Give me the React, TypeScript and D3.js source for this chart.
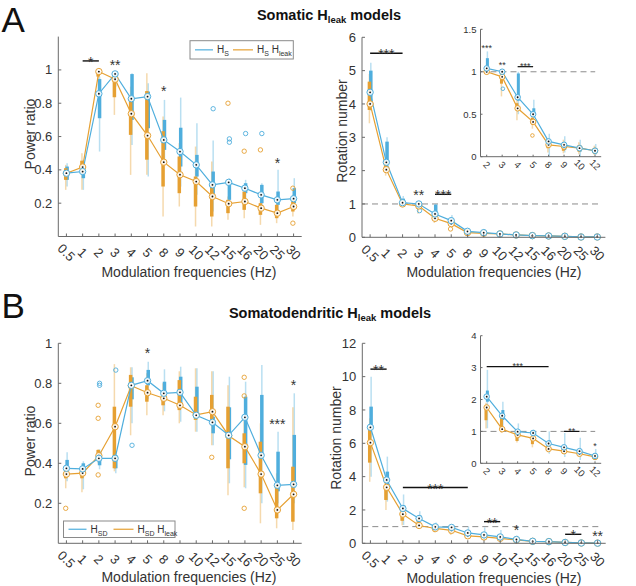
import React from "react";
import * as d3 from "d3";

const categories = ["0.5", "1", "2", "3", "4", "5", "8", "9", "10", "12", "15", "16", "20", "25", "30"];
const insetCategories = ["2", "3", "4", "5", "8", "9", "10", "12"];
const insetStart = 2;

// per category: [lower whisker, Q1, marker (line value), Q3, upper whisker]
const powerSomaticHs = [
  [0.30, 0.34, 0.38, 0.42, 0.44],
  [0.28, 0.35, 0.39, 0.41, 0.46],
  [0.51, 0.71, 0.857, 0.945, 0.96],
  [0.90, 0.955, 0.976, 0.985, 0.99],
  [0.55, 0.70, 0.827, 0.975, 0.98],
  [0.36, 0.65, 0.84, 0.87, 0.92],
  [0.45, 0.52, 0.58, 0.70, 0.82],
  [0.30, 0.42, 0.51, 0.653, 0.834],
  [0.25, 0.36, 0.43, 0.49, 0.68],
  [0.15, 0.24, 0.31, 0.39, 0.576],
  [0.18, 0.22, 0.325, 0.33, 0.35],
  [0.20, 0.26, 0.29, 0.32, 0.34],
  [0.15, 0.20, 0.25, 0.31, 0.32],
  [0.14, 0.19, 0.22, 0.27, 0.40],
  [0.17, 0.20, 0.227, 0.29, 0.35],
];
const powerSomaticHsLeak = [
  [0.28, 0.34, 0.38, 0.41, 0.43],
  [0.28, 0.38, 0.417, 0.455, 0.50],
  [0.93, 0.96, 0.99, 0.99, 0.99],
  [0.73, 0.836, 0.944, 0.955, 0.98],
  [0.37, 0.61, 0.737, 0.84, 0.90],
  [0.37, 0.461, 0.606, 0.873, 0.98],
  [0.12, 0.30, 0.446, 0.632, 0.72],
  [0.18, 0.26, 0.371, 0.48, 0.56],
  [0.06, 0.18, 0.33, 0.36, 0.54],
  [0.06, 0.12, 0.24, 0.31, 0.45],
  [0.10, 0.14, 0.197, 0.22, 0.24],
  [0.11, 0.16, 0.21, 0.27, 0.30],
  [0.07, 0.13, 0.17, 0.20, 0.25],
  [0.08, 0.11, 0.14, 0.19, 0.22],
  [0.12, 0.15, 0.18, 0.22, 0.25],
];
// outliers: [category index, value]
const powerSomaticHsOut = [[9, 0.767], [10, 0.586], [10, 0.566], [11, 0.618], [12, 0.618]];
const powerSomaticHsLeakOut = [[10, 0.80], [11, 0.512], [12, 0.52], [14, 0.29], [14, 0.08]];
// significance: [stars, from index, to index, value, has bar]
const powerSomaticSig = [["*", 1, 2, 1.054, 1], ["**", 3, 3, 1.05, 0], ["*", 6, 6, 0.89, 0], ["*", 13, 13, 0.46, 0]];

const rotSomaticHs = [
  [3.8, 4.0, 4.35, 5.0, 5.24],
  [2.0, 2.2, 2.25, 2.87, 3.0],
  [0.98, 1.02, 1.04, 1.16, 1.24],
  [0.95, 0.98, 1.0, 1.0, 1.01],
  [0.5, 0.66, 0.70, 0.98, 1.0],
  [0.4, 0.49, 0.50, 0.57, 0.67],
  [0.0, 0.12, 0.18, 0.2, 0.27],
  [0.05, 0.08, 0.14, 0.16, 0.24],
  [0.0, 0.06, 0.10, 0.13, 0.2],
  [0.02, 0.04, 0.07, 0.1, 0.15],
  [0.03, 0.04, 0.05, 0.06, 0.07],
  [0.03, 0.035, 0.04, 0.05, 0.06],
  [0.02, 0.025, 0.03, 0.04, 0.05],
  [0.005, 0.008, 0.01, 0.015, 0.02],
  [0.005, 0.008, 0.01, 0.015, 0.02],
];
const rotSomaticHsLeak = [
  [3.42, 3.82, 4.0, 4.67, 4.9],
  [1.85, 2.0, 2.03, 2.27, 2.4],
  [0.98, 0.99, 1.0, 1.0, 1.0],
  [0.71, 0.86, 0.94, 0.98, 1.0],
  [0.43, 0.55, 0.57, 0.63, 0.7],
  [0.33, 0.38, 0.41, 0.46, 0.5],
  [0.05, 0.1, 0.14, 0.18, 0.22],
  [0.04, 0.07, 0.12, 0.14, 0.2],
  [0.03, 0.06, 0.10, 0.13, 0.17],
  [0.02, 0.04, 0.07, 0.1, 0.13],
  [0.03, 0.04, 0.05, 0.06, 0.07],
  [0.03, 0.035, 0.04, 0.05, 0.06],
  [0.02, 0.025, 0.03, 0.04, 0.05],
  [0.005, 0.008, 0.01, 0.015, 0.02],
  [0.005, 0.008, 0.01, 0.015, 0.02],
];
const rotSomaticHsOut = [[3, 0.80]];
const rotSomaticHsLeakOut = [[5, 0.25]];
const rotSomaticSig = [["***", 0, 2, 5.52, 1], ["**", 3, 3, 1.37, 0], ["***", 4, 5, 1.29, 1]];
const rotSomaticInsetSig = [["***", 0, 0, 1.31, 0], ["**", 1, 1, 1.1, 0], ["***", 2, 3, 1.06, 1]];

const powerDendHsd = [
  [0.31, 0.366, 0.375, 0.417, 0.455],
  [0.27, 0.358, 0.372, 0.40, 0.41],
  [0.37, 0.39, 0.425, 0.458, 0.47],
  [0.35, 0.375, 0.425, 0.44, 0.45],
  [0.60, 0.72, 0.79, 0.83, 0.88],
  [0.72, 0.79, 0.813, 0.867, 0.908],
  [0.66, 0.73, 0.75, 0.808, 0.87],
  [0.608, 0.70, 0.755, 0.833, 0.883],
  [0.558, 0.633, 0.64, 0.783, 0.875],
  [0.49, 0.55, 0.605, 0.633, 0.86],
  [0.30, 0.42, 0.54, 0.68, 0.833],
  [0.275, 0.392, 0.63, 0.733, 0.808],
  [0.2, 0.433, 0.44, 0.742, 0.892],
  [0.2, 0.26, 0.29, 0.458, 0.558],
  [0.2, 0.28, 0.295, 0.542, 0.75],
];
const powerDendHsdLeak = [
  [0.275, 0.325, 0.346, 0.366, 0.38],
  [0.255, 0.325, 0.351, 0.366, 0.38],
  [0.40, 0.433, 0.438, 0.467, 0.47],
  [0.36, 0.375, 0.583, 0.683, 0.896],
  [0.54, 0.683, 0.788, 0.842, 0.88],
  [0.64, 0.708, 0.753, 0.79, 0.85],
  [0.64, 0.69, 0.725, 0.75, 0.80],
  [0.6, 0.666, 0.69, 0.816, 0.86],
  [0.558, 0.617, 0.642, 0.733, 0.875],
  [0.49, 0.608, 0.658, 0.742, 0.86],
  [0.24, 0.375, 0.538, 0.683, 0.79],
  [0.28, 0.40, 0.483, 0.55, 0.62],
  [0.1, 0.25, 0.346, 0.508, 0.6],
  [0.075, 0.125, 0.167, 0.292, 0.35],
  [0.067, 0.108, 0.245, 0.383, 0.68],
];
const powerDendHsdOut = [[2, 0.80], [2, 0.79], [3, 0.866], [4, 0.49]];
const powerDendHsdLeakOut = [[0, 0.175], [2, 0.69], [2, 0.625], [2, 0.342], [9, 0.43], [11, 0.83], [11, 0.737], [11, 0.175]];
const powerDendSig = [["*", 5, 5, 0.967, 0], ["***", 13, 13, 0.61, 0], ["*", 14, 14, 0.808, 0]];

const rotDendHsd = [
  [4.0, 6.9, 6.96, 8.2, 10.0],
  [2.5, 3.5, 3.8, 4.3, 5.2],
  [1.1, 1.93, 2.09, 2.28, 2.93],
  [1.1, 1.36, 1.49, 1.67, 1.93],
  [0.7, 0.9, 0.99, 1.0, 1.25],
  [0.7, 0.88, 0.95, 1.0, 1.05],
  [0.3, 0.55, 0.62, 0.72, 1.0],
  [0.2, 0.4, 0.5, 0.55, 0.95],
  [0.1, 0.3, 0.38, 0.45, 0.8],
  [0.1, 0.18, 0.23, 0.28, 0.45],
  [0.05, 0.1, 0.12, 0.15, 0.2],
  [0.05, 0.08, 0.1, 0.12, 0.15],
  [0.02, 0.04, 0.05, 0.06, 0.08],
  [0.01, 0.015, 0.02, 0.03, 0.04],
  [0.005, 0.008, 0.01, 0.015, 0.02],
];
const rotDendHsdLeak = [
  [3.69, 4.84, 6.04, 6.96, 7.5],
  [2.0, 2.6, 3.36, 3.4, 3.8],
  [1.09, 1.35, 1.75, 1.8, 1.9],
  [0.95, 1.05, 1.07, 1.46, 1.5],
  [0.65, 0.7, 0.89, 0.92, 1.0],
  [0.5, 0.6, 0.78, 0.85, 0.9],
  [0.35, 0.4, 0.45, 0.55, 0.6],
  [0.3, 0.33, 0.38, 0.42, 0.45],
  [0.2, 0.25, 0.3, 0.35, 0.4],
  [0.15, 0.18, 0.2, 0.22, 0.26],
  [0.05, 0.1, 0.12, 0.15, 0.2],
  [0.05, 0.08, 0.1, 0.12, 0.15],
  [0.02, 0.04, 0.05, 0.06, 0.08],
  [0.01, 0.015, 0.02, 0.03, 0.04],
  [0.005, 0.008, 0.01, 0.015, 0.02],
];
const rotDendHsdOut: number[][] = [];
const rotDendHsdLeakOut: number[][] = [];
const rotDendSig = [["**", 0, 1, 10.45, 1], ["***", 2, 6, 3.35, 1], ["**", 7, 8, 1.3, 1], ["*", 9, 9, 1.0, 0], ["*", 12, 13, 0.54, 1], ["**", 14, 14, 0.63, 0]];
const rotDendInsetSig = [["***", 0, 4, 3.03, 1], ["**", 5, 6, 1.0, 1], ["*", 7, 7, 0.6, 0]];

const powerTicks = [0.2, 0.4, 0.6, 0.8, 1];
const rotSomaticTicks = [0, 1, 2, 3, 4, 5, 6];
const rotDendTicks = [0, 2, 4, 6, 8, 10, 12];
const insetSomaticTicks = [0, 0.5, 1, 1.5];
const insetDendTicks = [0, 1, 2, 3, 4];

const BLUE = "#4FAEDD";
const ORANGE = "#E6A032";
const AXIS = "#6a6a6a";
const TEXT = "#333333";
const FONT = "'Liberation Sans', Arial, Helvetica, sans-serif";

type Row = number[];

interface PanelProps {
  cats: string[];
  x0: number; x1: number; pad: number;
  yTop: number; yBottom: number; yMax: number; yTicks: number[];
  blue: Row[]; orange: Row[];
  blueOut: number[][]; orangeOut: number[][];
  sigs: any[];
  dashed?: boolean; small?: boolean;
}

function Panel(p: PanelProps) {
  const x = d3.scalePoint<string>().domain(p.cats).range([p.x0, p.x1]).padding(p.pad);
  const y = d3.scaleLinear().domain([0, p.yMax]).range([p.yBottom, p.yTop]);
  const tickFont = p.small ? 9.5 : 13;
  const starFont = p.small ? 9 : 14;
  const boxW = p.small ? 3 : 3.5;
  const mr = p.small ? 2.8 : 3.2;
  const tl = p.small ? 2 : 3;
  const xl = p.small ? 8 : 16;
  const cx = (i: number) => x(p.cats[i]) as number;
  const line = d3.line<Row>().x((_, i) => cx(i)).y((d) => y(d[2]));
  const series = [
    { key: "b", data: p.blue, out: p.blueOut, color: BLUE, dx: 0.7 },
    { key: "o", data: p.orange, out: p.orangeOut, color: ORANGE, dx: -0.7 },
  ];
  return (
    <g fontFamily={FONT}>
      {p.dashed && (
        <line x1={p.x0} x2={p.x1 - 6} y1={y(1)} y2={y(1)} stroke="#8c8c8c" strokeWidth={1} strokeDasharray="6,4" />
      )}
      {series.map((s) =>
        s.data.map((d, i) => (
          <line key={s.key + "w" + i} x1={cx(i) + s.dx} x2={cx(i) + s.dx} y1={y(d[0])} y2={y(d[4])}
            stroke={s.color} strokeOpacity={0.4} strokeWidth={1.5} />
        ))
      )}
      {series.map((s) =>
        s.data.map((d, i) => (
          <rect key={s.key + "b" + i} x={cx(i) + s.dx - boxW / 2} width={boxW} y={y(d[3])}
            height={Math.max(0.5, y(d[1]) - y(d[3]))} fill={s.color} />
        ))
      )}
      {series.map((s) =>
        s.out.map((o, j) => (
          <circle key={s.key + "o" + j} cx={cx(o[0]) + s.dx} cy={y(o[1])} r={p.small ? 1.8 : 2.2}
            fill="none" stroke={s.color} strokeWidth={0.9} />
        ))
      )}
      {[series[1], series[0]].map((s) => (
        <path key={s.key + "l"} d={line(s.data) || ""} fill="none" stroke={s.color} strokeWidth={1.2} />
      ))}
      {[series[1], series[0]].map((s) =>
        s.data.map((d, i) => (
          <g key={s.key + "m" + i}>
            <circle cx={cx(i)} cy={y(d[2])} r={mr} fill="#fff" fillOpacity={0.85} stroke={s.color} strokeWidth={1} />
            <circle cx={cx(i)} cy={y(d[2])} r={0.9} fill="#111" />
          </g>
        ))
      )}
      <line x1={p.x0} x2={p.x0} y1={p.yTop} y2={p.yBottom} stroke={AXIS} strokeWidth={1} />
      <line x1={p.x0} x2={p.x1} y1={p.yBottom} y2={p.yBottom} stroke={AXIS} strokeWidth={1} />
      {p.yTicks.map((t) => (
        <g key={"yt" + t}>
          <line x1={p.x0} x2={p.x0 + tl} y1={y(t)} y2={y(t)} stroke={AXIS} />
          <text x={p.x0 - (p.small ? 4 : 6)} y={y(t)} dy="0.35em" textAnchor="end" fontSize={tickFont} fill={TEXT}>
            {String(t)}
          </text>
        </g>
      ))}
      {p.cats.map((c, i) => (
        <g key={"xt" + c}>
          <line x1={cx(i)} x2={cx(i)} y1={p.yBottom} y2={p.yBottom - tl} stroke={AXIS} />
          <text transform={`translate(${cx(i)},${p.yBottom + xl}) rotate(45)`} textAnchor="middle" dy="0.35em"
            fontSize={tickFont} fill={TEXT}>
            {c}
          </text>
        </g>
      ))}
      {p.sigs.map((s, k) => {
        const xa = cx(s[1]);
        const xb = cx(s[2]);
        const yy = y(s[3]);
        const center = s[4] ? yy - (p.small ? 2.5 : 2) : yy;
        return (
          <g key={"sig" + k}>
            {s[4] ? <line x1={xa} x2={xb} y1={yy} y2={yy} stroke="#111" strokeWidth={p.small ? 1.2 : 1.4} /> : null}
            <text x={(xa + xb) / 2} y={center + starFont * 0.58} textAnchor="middle" fontSize={starFont} fill={TEXT}>
              {s[0]}
            </text>
          </g>
        );
      })}
    </g>
  );
}

const insetRows = (rows: Row[]) => rows.slice(insetStart, insetStart + insetCategories.length);
const insetOut = (out: number[][]) =>
  out.filter((o) => o[0] >= insetStart && o[0] < insetStart + insetCategories.length).map((o) => [o[0] - insetStart, o[1]]);

function Legend({ x, y, w, h, sub }: { x: number; y: number; w: number; h: number; sub: string }) {
  const my = y + h / 2;
  const bx = x + 5;
  const ox = x + (sub === "S" ? 43 : 50);
  return (
    <g fontFamily={FONT} fill={TEXT}>
      <rect x={x} y={y} width={w} height={h} fill="#fff" stroke="#8a8a8a" strokeWidth={1} />
      <line x1={bx} x2={bx + 18} y1={my} y2={my} stroke={BLUE} strokeWidth={1.2} />
      <text x={bx + 22} y={my + 3.5} fontSize={10}>
        H<tspan fontSize={7} dy={3}>{sub}</tspan>
      </text>
      <line x1={ox} x2={ox + 20} y1={my} y2={my} stroke={ORANGE} strokeWidth={1.2} />
      <text x={ox + 24} y={my + 3.5} fontSize={10}>
        H<tspan fontSize={7} dy={3}>{sub}</tspan>
        <tspan fontSize={10} dy={-3}> H</tspan>
        <tspan fontSize={7} dy={3}>leak</tspan>
      </text>
    </g>
  );
}

function AxisLabels({ xc, xy, yx, yc, ylabel }: { xc: number; xy: number; yx: number; yc: number; ylabel: string }) {
  return (
    <g fontFamily={FONT} fill={TEXT} fontSize={14}>
      <text x={xc} y={xy} dy="0.35em" textAnchor="middle">Modulation frequencies (Hz)</text>
      <text transform={`translate(${yx},${yc}) rotate(-90)`} dy="0.35em" textAnchor="middle">{ylabel}</text>
    </g>
  );
}

export default function App() {
  return (
    <svg width={636} height={586} style={{ position: "absolute", left: 0, top: 0, background: "#fff" }}>
      <rect width={636} height={586} fill="#fff" />
      <text x={1.5} y={31.7} fontFamily={FONT} fontSize={35} fill="#111">A</text>
      <text x={1.5} y={318} fontFamily={FONT} fontSize={35} fill="#111">B</text>
      <text x={329} y={19.5} textAnchor="middle" fontFamily={FONT} fontWeight="bold" fill="#111" fontSize={14.5}>
        Somatic H<tspan fontSize={9.5} dy={3}>leak</tspan>
        <tspan fontSize={14.5} dy={-3}> models</tspan>
      </text>
      <text x={330} y={318} textAnchor="middle" fontFamily={FONT} fontWeight="bold" fill="#111" fontSize={14.5}>
        Somatodendritic H<tspan fontSize={9.5} dy={3}>leak</tspan>
        <tspan fontSize={14.5} dy={-3}> models</tspan>
      </text>

      <Panel cats={categories} x0={58.3} x1={301.7} pad={0.5} yTop={36.6} yBottom={236.5} yMax={1.2}
        yTicks={powerTicks} blue={powerSomaticHs} orange={powerSomaticHsLeak}
        blueOut={powerSomaticHsOut} orangeOut={powerSomaticHsLeakOut} sigs={powerSomaticSig} />
      <Legend x={190} y={40.7} w={103.3} h={18.3} sub="S" />
      <AxisLabels xc={189} xy={272} yx={30} yc={134} ylabel="Power ratio" />

      <Panel cats={categories} x0={362} x1={605.4} pad={0.5} yTop={37.3} yBottom={237.3} yMax={6}
        yTicks={rotSomaticTicks} blue={rotSomaticHs} orange={rotSomaticHsLeak}
        blueOut={rotSomaticHsOut} orangeOut={rotSomaticHsLeakOut} sigs={rotSomaticSig} dashed />
      <AxisLabels xc={494} xy={272} yx={341.7} yc={131} ylabel="Rotation number" />
      <Panel cats={insetCategories} x0={480.5} x1={601.2} pad={0.4} yTop={29.3} yBottom={156.7} yMax={1.5}
        yTicks={insetSomaticTicks} blue={insetRows(rotSomaticHs)} orange={insetRows(rotSomaticHsLeak)}
        blueOut={insetOut(rotSomaticHsOut)} orangeOut={insetOut(rotSomaticHsLeakOut)}
        sigs={rotSomaticInsetSig} dashed small />

      <Panel cats={categories} x0={58.3} x1={301.7} pad={0.5} yTop={343.3} yBottom={543.3} yMax={1}
        yTicks={powerTicks} blue={powerDendHsd} orange={powerDendHsdLeak}
        blueOut={powerDendHsdOut} orangeOut={powerDendHsdLeakOut} sigs={powerDendSig} />
      <Legend x={63.5} y={521} w={111.5} h={16.5} sub="SD" />
      <AxisLabels xc={189} xy={577} yx={30} yc={441} ylabel="Power ratio" />

      <Panel cats={categories} x0={362.3} x1={605.7} pad={0.5} yTop={343.3} yBottom={543.3} yMax={12}
        yTicks={rotDendTicks} blue={rotDendHsd} orange={rotDendHsdLeak}
        blueOut={rotDendHsdOut} orangeOut={rotDendHsdLeakOut} sigs={rotDendSig} dashed />
      <AxisLabels xc={494} xy={578} yx={336} yc={438} ylabel="Rotation number" />
      <Panel cats={insetCategories} x0={480.5} x1={601.2} pad={0.4} yTop={335.7} yBottom={463.3} yMax={4}
        yTicks={insetDendTicks} blue={insetRows(rotDendHsd)} orange={insetRows(rotDendHsdLeak)}
        blueOut={insetOut(rotDendHsdOut)} orangeOut={insetOut(rotDendHsdLeakOut)}
        sigs={rotDendInsetSig} dashed small />
    </svg>
  );
}
